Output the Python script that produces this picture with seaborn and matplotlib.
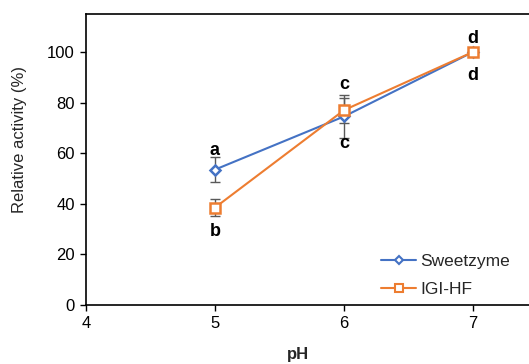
import matplotlib
matplotlib.use("Agg")
import matplotlib.pyplot as plt
import seaborn as sns
import pandas as pd

# ---- data ----
ph = [5, 6, 7]
sweetzyme = [53.5, 74.5, 100.0]
sweetzyme_err = [5.0, 8.5, 0.5]
igi_hf = [38.5, 77.0, 100.0]
igi_hf_err = [3.5, 5.0, 0.5]
sweetzyme_letters = ["a", "c", "d"]
igi_hf_letters = ["b", "c", "d"]

series_names = ["Sweetzyme", "IGI-HF"]
colors = {"Sweetzyme": "#4472C4", "IGI-HF": "#ED7D31"}

df = pd.DataFrame({
    "pH": ph + ph,
    "activity": sweetzyme + igi_hf,
    "err": sweetzyme_err + igi_hf_err,
    "enzyme": ["Sweetzyme"] * 3 + ["IGI-HF"] * 3,
})

sns.set_style("ticks")
plt.rcParams["font.family"] = ["Liberation Sans", "DejaVu Sans"]

fig = plt.figure(figsize=(5.29, 3.64), dpi=100)
ax = fig.add_axes([86 / 529, 1 - 305 / 364, 1 - 86 / 529, (305 - 14) / 364])

# error bars
for name in series_names:
    sub = df[df.enzyme == name]
    ax.errorbar(sub["pH"], sub["activity"], yerr=sub["err"], fmt="none",
                ecolor="#595959", elinewidth=1.0, capsize=3.5, capthick=1.0, zorder=2)

sns.lineplot(data=df, x="pH", y="activity", hue="enzyme", style="enzyme",
             hue_order=series_names, style_order=series_names,
             palette=colors, markers={"Sweetzyme": "D", "IGI-HF": "s"},
             dashes=False, linewidth=1.5, ax=ax, zorder=3, legend=False)

sizes = {"Sweetzyme": 5.5, "IGI-HF": 7.5}
handles = []
for line, name in zip(ax.lines[-2:], series_names):
    line.set_markerfacecolor("white")
    line.set_markeredgecolor(colors[name])
    line.set_markeredgewidth(1.8)
    line.set_markersize(sizes[name])
    h, = ax.plot([], [], color=colors[name], marker=line.get_marker(), mfc="white",
                 mec=colors[name], mew=1.5, ms=sizes[name] * 0.8, lw=1.5)
    handles.append(h)

# significance letters (pixel offsets from the point, to the text baseline)
offsets_px = {
    "Sweetzyme": [15, -32, 9],
    "IGI-HF": [-28, 21, -28],
}
letters = {"Sweetzyme": sweetzyme_letters, "IGI-HF": igi_hf_letters}
vals = {"Sweetzyme": sweetzyme, "IGI-HF": igi_hf}
for name in series_names:
    for x, y, lab, off in zip(ph, vals[name], letters[name], offsets_px[name]):
        ax.annotate(lab, (x, y), xytext=(0, off), textcoords="offset pixels",
                    ha="center", va="baseline", fontsize=13, fontweight="bold",
                    color="black")

ax.set_xlim(4, 4 + (529 - 86) / 129)
ax.set_ylim(0, 115)
ax.set_xticks([4, 5, 6, 7])
ax.set_yticks([0, 20, 40, 60, 80, 100])
ax.tick_params(axis="both", labelsize=12, direction="out", length=4, width=1,
               color="black", labelcolor="black", pad=4)
ax.set_xlabel("pH", fontsize=12, fontweight="bold")
ax.xaxis.set_label_coords(0.479, -0.146)
ax.set_ylabel("Relative activity (%)", fontsize=12)
ax.yaxis.set_label_coords(-0.134, 0.57)
for s in ["left", "bottom", "top"]:
    ax.spines[s].set_color("black")
    ax.spines[s].set_linewidth(1.2)
ax.spines["right"].set_visible(False)

ax.legend(handles, series_names, loc="lower right", frameon=False, fontsize=12.5,
          handlelength=2.0, handletextpad=0.25, bbox_to_anchor=(0.973, 0.005),
          borderaxespad=0.0, labelspacing=0.7)

fig.savefig("out.png", dpi=100)
